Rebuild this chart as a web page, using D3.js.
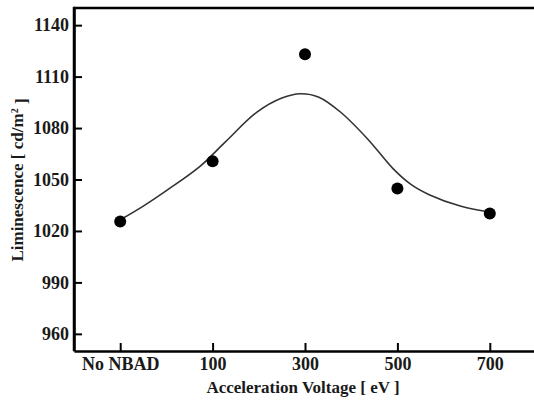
<!DOCTYPE html>
<html><head><meta charset="utf-8">
<script src="https://cdn.jsdelivr.net/npm/d3@7"></script>
<style>body{margin:0;background:#fff}svg{display:block}
text{font-family:"Liberation Serif","Times New Roman",serif;font-weight:bold;fill:#1a1a1a}</style>
</head><body>
<script>
const categories = ["No NBAD", "100", "300", "500", "700"];
const luminescence = [1025.5, 1060.6, 1123, 1044.8, 1030.2];
// fitted curve: [category position, value]
const fitX = [0, 0.25, 0.5, 0.86, 1.13, 1.48, 1.75, 1.95, 2.15, 2.38, 2.68, 2.95, 3.15, 3.35, 3.68, 4];
const fitY = [1026.5, 1034.5, 1043.5, 1057.5, 1071.5, 1089.3, 1097.5, 1100, 1098, 1089.5, 1073.5, 1056.5, 1047, 1041, 1034.5, 1031];
const yTicks = [960, 990, 1020, 1050, 1080, 1110, 1140];

const W = 534, H = 400;
const svg = d3.select("body").append("svg").attr("width", W).attr("height", H);

const x = d3.scaleLinear().domain([-0.5, 4.5]).range([74, 536]);
const y = d3.scaleLinear().domain([950, 1150]).range([351, 8]);

const yAxis = svg.append("g").attr("transform", `translate(${x(-0.5)},0)`)
  .call(d3.axisLeft(y).tickValues(yTicks).tickFormat(d3.format("d")).tickSizeInner(-8).tickSizeOuter(0).tickPadding(5));
const xAxis = svg.append("g").attr("transform", `translate(0,${y(950)})`)
  .call(d3.axisBottom(x).tickValues(d3.range(categories.length)).tickFormat(i => categories[i])
    .tickSizeInner(-8).tickSizeOuter(0).tickPadding(6));
[yAxis, xAxis].forEach(g => {
  g.attr("font-family", null);
  g.select(".domain").attr("stroke", "#000").attr("stroke-width", 2.5);
  g.selectAll(".tick line").attr("stroke", "#000").attr("stroke-width", 2);
  g.selectAll(".tick text").attr("fill", "#1a1a1a").style("font-size", "18px");
});
xAxis.selectAll(".tick text").attr("dy", "0.72em");
svg.append("line").attr("x1", x(-0.5)).attr("x2", W).attr("y1", y(1150)).attr("y2", y(1150))
  .attr("stroke", "#000").attr("stroke-width", 2.5);
svg.append("line").attr("x1", x(-0.5)).attr("x2", x(-0.5)).attr("y1", y(1150)-1.2).attr("y2", y(950))
  .attr("stroke", "#000").attr("stroke-width", 2.5);

svg.append("path").datum(fitX.map((v, i) => [v, fitY[i]]))
  .attr("d", d3.line().x(d => x(d[0])).y(d => y(d[1])).curve(d3.curveCatmullRom.alpha(0.5)))
  .attr("fill", "none").attr("stroke", "#333").attr("stroke-width", 1.6);

svg.selectAll("circle.pt").data(luminescence).join("circle")
  .attr("cx", (d, i) => x(i)).attr("cy", d => y(d)).attr("r", 6).attr("fill", "#000");

svg.append("text").attr("x", 303).attr("y", 393).attr("text-anchor", "middle")
  .style("font-size", "17px").text("Acceleration Voltage [ eV ]");
const yl = svg.append("text").attr("transform", "translate(23,180) rotate(-90)").attr("text-anchor", "middle")
  .style("font-size", "17px");
yl.append("tspan").text("Liminescence [ cd/m");
yl.append("tspan").text("2").attr("dy", "-0.5em").style("font-size", "10px");
yl.append("tspan").text(" ]").attr("dy", "0.5em");
</script>
</body></html>
